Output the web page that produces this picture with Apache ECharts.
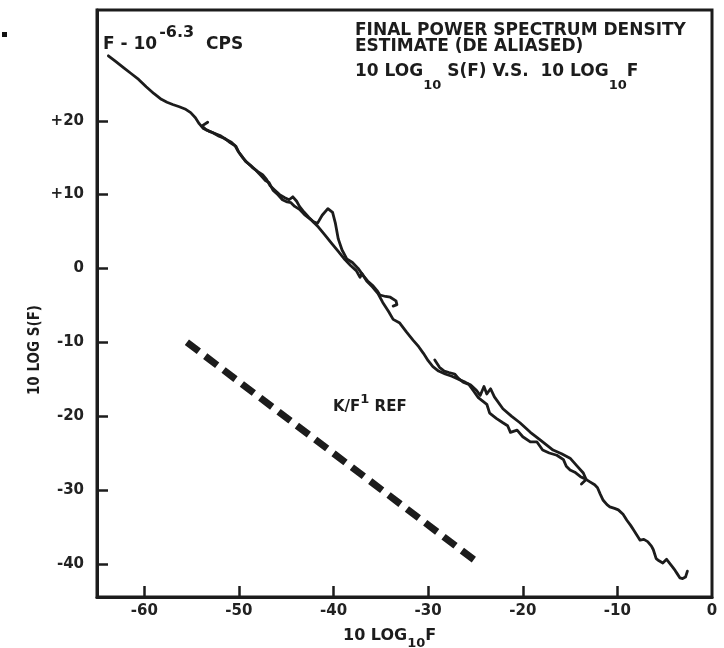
<!DOCTYPE html>
<html>
<head>
<meta charset="utf-8">
<title>Final power spectrum density estimate</title>
<script src="https://cdn.jsdelivr.net/npm/echarts@6/dist/echarts.min.js"></script>
<style>
  html, body { margin: 0; padding: 0; background: #ffffff; }
  #chart { width: 724px; height: 648px; }
</style>
</head>
<body>
<div id="chart"></div>
<script>
// Axis ticks (10 log10 F on x, 10 log S(F) on y)
const xTicks = [-60, -50, -40, -30, -20, -10, 0];
const yTicks = [-40, -30, -20, -10, 0, 10, 20];

// Lowest band estimate, starting at F = 10^-6.3 cps
const lowBand = [
  [-63.8, 28.8], [-63.0, 28.0], [-62.2, 27.2], [-61.4, 26.4], [-60.6, 25.6], [-59.8, 24.6],
  [-59.0, 23.7], [-58.2, 22.9], [-57.6, 22.5], [-57.0, 22.2], [-56.3, 21.9], [-55.7, 21.6],
  [-55.1, 21.1], [-54.6, 20.4], [-54.2, 19.6], [-53.8, 19.0], [-53.2, 18.6], [-52.6, 18.3],
  [-52.0, 18.0], [-51.4, 17.5], [-50.8, 17.1], [-50.3, 16.5], [-50.0, 15.7], [-49.6, 15.0],
  [-49.1, 14.3], [-48.6, 13.7], [-48.0, 13.1], [-47.5, 12.7], [-47.1, 12.1], [-46.7, 11.2],
  [-46.2, 10.6], [-45.7, 10.0], [-45.2, 9.6], [-44.7, 9.3], [-44.3, 9.7], [-43.9, 9.1],
  [-43.6, 8.4], [-43.1, 7.6], [-42.6, 6.9], [-42.1, 6.3], [-41.7, 6.1], [-41.2, 7.2],
  [-40.6, 8.1], [-40.1, 7.6], [-39.8, 6.1], [-39.5, 4.0], [-39.1, 2.5], [-38.6, 1.3],
  [-38.0, 0.8], [-37.4, 0.0], [-36.9, -0.9], [-36.4, -1.7], [-35.8, -2.4], [-35.4, -3.0],
  [-35.1, -3.6], [-34.5, -3.8], [-34.0, -3.9], [-33.4, -4.4], [-33.3, -4.9], [-33.7, -5.1]
];

// Middle band estimate
const midBand = [
  [-53.3, 19.8], [-53.9, 19.3], [-53.5, 18.8], [-52.8, 18.4], [-52.1, 17.9], [-51.5, 17.6],
  [-50.9, 17.0], [-50.4, 16.6], [-50.1, 15.9], [-49.7, 15.2], [-49.3, 14.5], [-48.8, 14.0],
  [-48.2, 13.3], [-47.7, 12.6], [-47.2, 11.9], [-46.8, 11.6], [-46.4, 10.6], [-45.9, 10.0],
  [-45.4, 9.3], [-44.9, 9.0], [-44.5, 8.9], [-44.1, 8.4], [-43.6, 8.0], [-43.0, 7.2],
  [-42.3, 6.5], [-41.6, 5.6], [-40.9, 4.5], [-40.2, 3.4], [-39.5, 2.3], [-38.8, 1.2],
  [-38.2, 0.4], [-37.6, -0.3], [-37.2, -1.2], [-37.0, -0.7], [-36.5, -1.7], [-35.9, -2.5],
  [-35.3, -3.4], [-34.8, -4.6], [-34.2, -5.8], [-33.7, -6.9], [-33.0, -7.4], [-32.3, -8.6],
  [-31.6, -9.7], [-31.0, -10.6], [-30.5, -11.5], [-30.0, -12.5], [-29.5, -13.3], [-28.9, -13.9],
  [-28.2, -14.3], [-27.5, -14.6], [-26.8, -15.0], [-26.1, -15.4], [-25.5, -15.8], [-24.9, -16.5],
  [-24.5, -17.2], [-24.1, -16.0], [-23.8, -17.0], [-23.4, -16.3], [-23.0, -17.4], [-22.1, -19.0],
  [-21.2, -20.0], [-20.3, -20.9], [-19.2, -22.2], [-18.2, -23.2], [-17.5, -23.9], [-16.8, -24.6],
  [-15.9, -25.1], [-15.0, -25.7], [-14.3, -26.7], [-13.6, -27.7], [-13.3, -28.6], [-13.8, -29.2]
];

// Highest band estimate, out to the folding frequency
const highBand = [
  [-29.3, -12.4], [-28.8, -13.4], [-28.3, -13.9], [-27.8, -14.1], [-27.2, -14.3], [-26.8, -14.9],
  [-26.3, -15.4], [-25.7, -15.7], [-25.2, -16.6], [-24.7, -17.5], [-24.2, -18.0], [-23.8, -18.4],
  [-23.5, -19.6], [-22.8, -20.3], [-22.1, -20.9], [-21.6, -21.3], [-21.3, -22.2], [-20.6, -21.9],
  [-20.0, -22.8], [-19.2, -23.5], [-18.5, -23.5], [-17.9, -24.6], [-17.2, -25.0], [-16.4, -25.3],
  [-15.7, -25.9], [-15.4, -26.8], [-15.0, -27.3], [-14.5, -27.6], [-13.9, -28.2], [-13.4, -28.5],
  [-12.9, -28.9], [-12.4, -29.3], [-12.1, -29.7], [-11.8, -30.6], [-11.5, -31.4], [-11.1, -32.0],
  [-10.8, -32.3], [-10.3, -32.5], [-9.9, -32.7], [-9.4, -33.3], [-9.0, -34.1], [-8.6, -34.8],
  [-8.3, -35.4], [-7.9, -36.2], [-7.6, -36.8], [-7.2, -36.7], [-6.8, -37.0], [-6.4, -37.6],
  [-6.2, -38.1], [-5.9, -39.3], [-5.6, -39.6], [-5.2, -39.9], [-4.8, -39.4], [-4.6, -39.5],
  [-4.2, -40.4], [-3.9, -40.9], [-3.7, -41.3], [-3.4, -41.9], [-3.1, -42.0], [-2.8, -41.8],
  [-2.6, -41.0]
];

// K/F^1 reference slope
const refLine = [[-55.5, -10.0], [-24.7, -39.9]];

const INK = '#1c1c1c';
const FONT = '"DejaVu Sans", sans-serif';

function traceSeries(data) {
  return {
    type: 'line',
    data: data,
    symbol: 'none',
    silent: true,
    smooth: false,
    lineStyle: { color: INK, width: 2.8, cap: 'round', join: 'round' },
    z: 3
  };
}

const chart = echarts.init(document.getElementById('chart'), null, { renderer: 'canvas' });

chart.setOption({
  animation: false,
  backgroundColor: '#ffffff',
  grid: {
    left: 97, right: 12, top: 10, bottom: 51,
    show: true, borderColor: INK, borderWidth: 3, backgroundColor: 'transparent'
  },
  xAxis: {
    type: 'value',
    min: -65, max: 0,
    axisLine: { show: true, onZero: false, lineStyle: { color: INK, width: 3 } },
    axisTick: {
      show: true, inside: true, length: 11,
      customValues: xTicks.slice(0, -1),
      lineStyle: { color: INK, width: 2.5 }
    },
    axisLabel: {
      show: true, margin: 7,
      customValues: xTicks,
      color: '#222', fontSize: 15, fontWeight: 'bold', fontFamily: FONT
    },
    splitLine: { show: false }
  },
  yAxis: {
    type: 'value',
    min: -44.5, max: 35,
    axisLine: { show: true, onZero: false, lineStyle: { color: INK, width: 3 } },
    axisTick: {
      show: true, inside: true, length: 11,
      customValues: yTicks,
      lineStyle: { color: INK, width: 2.5 }
    },
    axisLabel: {
      show: true, margin: 13,
      customValues: yTicks,
      formatter: v => (v > 0 ? '+' + v : String(v)),
      color: '#222', fontSize: 15, fontWeight: 'bold', fontFamily: FONT
    },
    splitLine: { show: false }
  },
  series: [
    traceSeries(lowBand),
    traceSeries(midBand),
    traceSeries(highBand),
    {
      type: 'line',
      data: refLine,
      symbol: 'none',
      silent: true,
      lineStyle: { color: INK, width: 7, type: [15, 8], cap: 'butt' },
      z: 2
    }
  ],
  graphic: [
    {
      type: 'text', x: 355, y: 31,
      style: {
        text: 'FINAL POWER SPECTRUM DENSITY',
        fill: INK, fontSize: 17, fontWeight: 'bold', fontFamily: FONT,
        align: 'left', verticalAlign: 'middle'
      }
    },
    {
      type: 'text', x: 355, y: 47,
      style: {
        text: 'ESTIMATE (DE ALIASED)',
        fill: INK, fontSize: 17, fontWeight: 'bold', fontFamily: FONT,
        align: 'left', verticalAlign: 'middle'
      }
    },
    {
      type: 'text', x: 355, y: 72,
      style: {
        text: '{m|10 LOG}{s|10}{m| S(F) V.S.  10 LOG}{s|10}{m|F}',
        fill: INK, align: 'left', verticalAlign: 'middle',
        rich: {
          m: { fontSize: 17, fontWeight: 'bold', fontFamily: FONT, color: INK, lineHeight: 40, verticalAlign: 'middle' },
          s: { fontSize: 13, fontWeight: 'bold', fontFamily: FONT, color: INK, lineHeight: 14, verticalAlign: 'bottom' }
        }
      }
    },
    {
      type: 'text', x: 103, y: 45,
      style: {
        text: '{m|F - 10}{p|-6.3}{m|  CPS}',
        fill: INK, align: 'left', verticalAlign: 'middle',
        rich: {
          m: { fontSize: 17, fontWeight: 'bold', fontFamily: FONT, color: INK, lineHeight: 40, verticalAlign: 'middle' },
          p: { fontSize: 16, fontWeight: 'bold', fontFamily: FONT, color: INK, lineHeight: 16, verticalAlign: 'top', padding: [0, 0, 0, 2] }
        }
      }
    },
    {
      type: 'text', x: 333, y: 407,
      style: {
        text: '{m|K/F}{p|1}{m| REF}',
        fill: INK, align: 'left', verticalAlign: 'middle',
        rich: {
          m: { fontSize: 15, fontWeight: 'bold', fontFamily: FONT, color: INK, lineHeight: 27, verticalAlign: 'middle' },
          p: { fontSize: 13, fontWeight: 'bold', fontFamily: FONT, color: INK, lineHeight: 13, verticalAlign: 'top' }
        }
      }
    },
    {
      type: 'text', x: 343, y: 636,
      style: {
        text: '{m|10 LOG}{s|10}{m|F}',
        fill: INK, align: 'left', verticalAlign: 'middle',
        rich: {
          m: { fontSize: 16, fontWeight: 'bold', fontFamily: FONT, color: INK, lineHeight: 29, verticalAlign: 'middle' },
          s: { fontSize: 13, fontWeight: 'bold', fontFamily: FONT, color: INK, lineHeight: 13, verticalAlign: 'bottom' }
        }
      }
    },
    {
      type: 'text', x: 35, y: 350, rotation: Math.PI / 2,
      style: {
        text: '10 LOG S(F)',
        fill: INK, fontSize: 15, fontWeight: 'bold', fontFamily: '"DejaVu Sans Condensed", "DejaVu Sans", sans-serif',
        align: 'center', verticalAlign: 'middle'
      }
    },
    {
      type: 'rect', shape: { x: 2, y: 32, width: 5, height: 5 },
      style: { fill: '#111' }
    }
  ]
});
</script>
</body>
</html>
